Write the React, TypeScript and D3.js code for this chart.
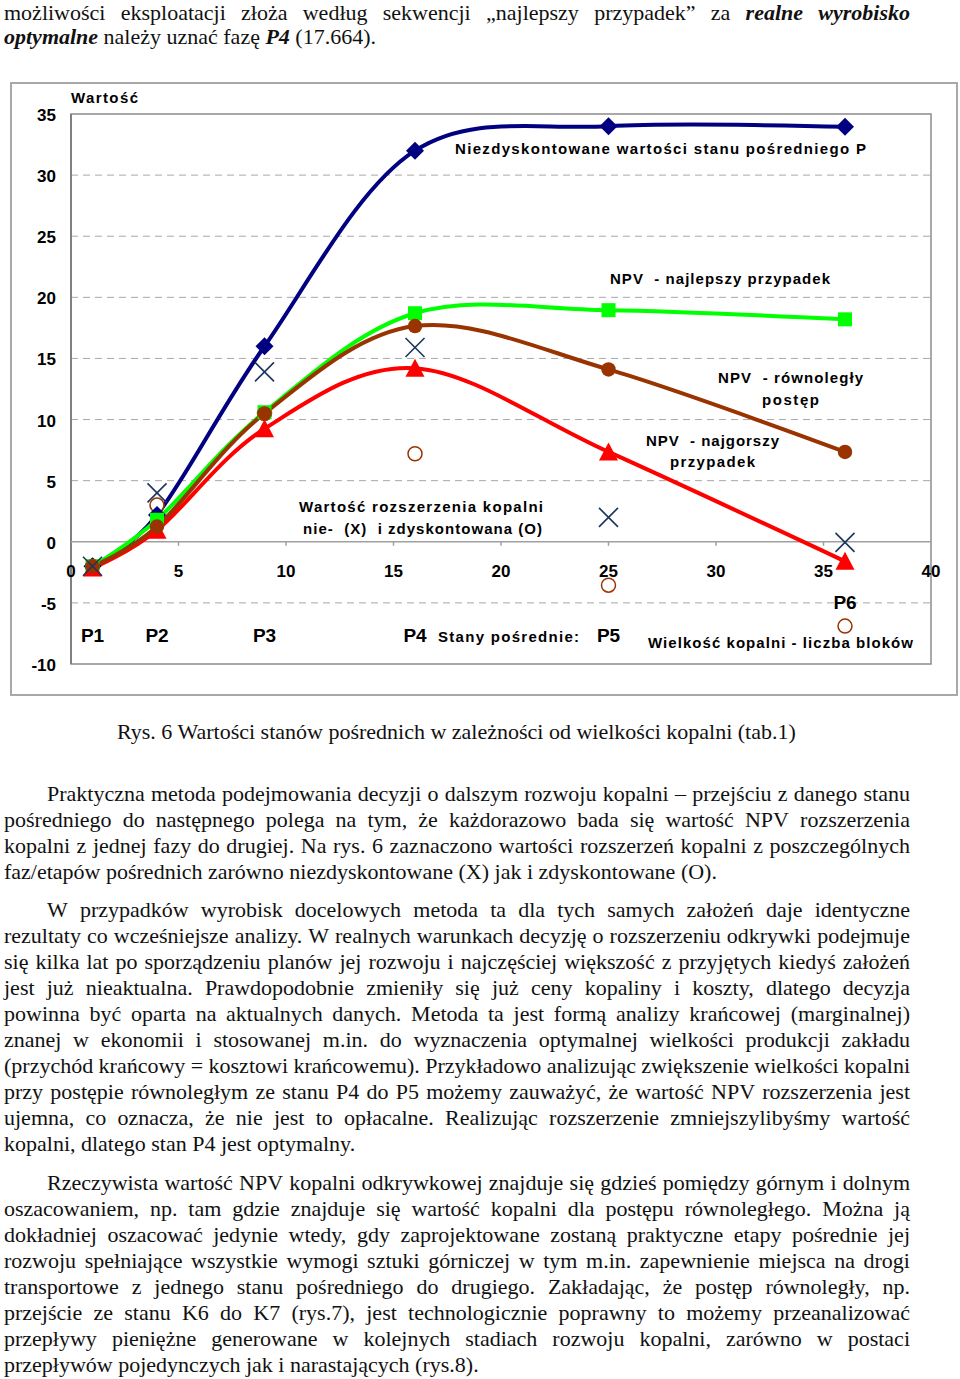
import React from 'react';
import * as d3 from 'd3';

// ---------- DATA ----------
const stages = ['P1', 'P2', 'P3', 'P4', 'P5', 'P6'];
const blocks = [1, 4, 9, 16, 25, 36];
const undiscountedValue = [-2, 2.2, 16, 32, 34, 33.95];
const npvBest = [-2, 1.8, 10.6, 18.7, 18.95, 18.2];
const npvParallel = [-2, 1.25, 10.5, 17.65, 14.1, 7.35];
const npvWorst = [-2.15, 0.95, 9.25, 14.2, 7.35, -1.6];
const expansionUndiscounted = [-2, 4, 13.9, 15.9, 2.0, -0.05];
const expansionDiscounted = [-2, 3, 10.5, 7.2, -3.55, -6.9];
const xTicks = [0, 5, 10, 15, 20, 25, 30, 35, 40];
const yTicks = [35, 30, 25, 20, 15, 10, 5, 0, -5, -10];
const gridValues = [30, 25, 20, 15, 10, 5, -5];

type Seg = { t: string; bi?: boolean };
const introLines: Seg[][] = [
  [{ t: 'możliwości eksploatacji złoża według sekwencji „najlepszy przypadek” za ' }, { t: 'realne wyrobisko', bi: true }],
  [{ t: 'optymalne', bi: true }, { t: ' należy uznać fazę ' }, { t: 'P4', bi: true }, { t: ' (17.664).' }],
];
const caption = 'Rys. 6 Wartości stanów pośrednich w zależności od wielkości kopalni (tab.1)';
const paragraph1 = [
  'Praktyczna metoda podejmowania decyzji o dalszym rozwoju kopalni – przejściu z danego stanu',
  'pośredniego do następnego polega na tym, że każdorazowo bada się wartość NPV rozszerzenia',
  'kopalni z jednej fazy do drugiej. Na rys. 6 zaznaczono wartości rozszerzeń kopalni z poszczególnych',
  'faz/etapów pośrednich zarówno niezdyskontowane (X) jak i zdyskontowane (O).',
];
const paragraph2 = [
  'W przypadków wyrobisk docelowych metoda ta dla tych samych założeń daje identyczne',
  'rezultaty co wcześniejsze analizy. W realnych warunkach decyzję o rozszerzeniu odkrywki podejmuje',
  'się kilka lat po sporządzeniu planów jej rozwoju i najczęściej większość z przyjętych kiedyś założeń',
  'jest już nieaktualna. Prawdopodobnie zmieniły się już ceny kopaliny i koszty, dlatego decyzja',
  'powinna być oparta na aktualnych danych. Metoda ta jest formą analizy krańcowej (marginalnej)',
  'znanej w ekonomii i stosowanej m.in. do wyznaczenia optymalnej wielkości produkcji zakładu',
  '(przychód krańcowy = kosztowi krańcowemu). Przykładowo analizując zwiększenie wielkości kopalni',
  'przy postępie równoległym ze stanu P4 do P5 możemy zauważyć, że wartość NPV rozszerzenia jest',
  'ujemna, co oznacza, że nie jest to opłacalne. Realizując rozszerzenie zmniejszylibyśmy wartość',
  'kopalni, dlatego stan P4 jest optymalny.',
];
const paragraph3 = [
  'Rzeczywista wartość NPV kopalni odkrywkowej znajduje się gdzieś pomiędzy górnym i dolnym',
  'oszacowaniem, np. tam gdzie znajduje się wartość kopalni dla postępu równoległego. Można ją',
  'dokładniej oszacować jedynie wtedy, gdy zaprojektowane zostaną praktyczne etapy pośrednie jej',
  'rozwoju spełniające wszystkie wymogi sztuki górniczej w tym m.in. zapewnienie miejsca na drogi',
  'transportowe z jednego stanu pośredniego do drugiego. Zakładając, że postęp równoległy, np.',
  'przejście ze stanu K6 do K7 (rys.7), jest technologicznie poprawny to możemy przeanalizować',
  'przepływy pieniężne generowane w kolejnych stadiach rozwoju kopalni, zarówno w postaci',
  'przepływów pojedynczych jak i narastających (rys.8).',
];

// ---------- LAYOUT ----------
const W = 960;
const H = 1379;
const x = d3.scaleLinear().domain([0, 40]).range([71, 931]);
const y = d3.scaleLinear().domain([-10, 35]).range([664, 114]);
const SANS = '"Liberation Sans", Arial, sans-serif';
const SERIF = '"Liberation Serif", "Times New Roman", serif';
const BODY = 22;

const chartLabels = [
  { text: 'Wartość', x: 71, y: 103, w: 67 },
  { text: 'Niezdyskontowane wartości stanu pośredniego P', x: 455, y: 154, w: 411 },
  { text: 'NPV  - najlepszy przypadek', x: 610, y: 284, w: 220 },
  { text: 'NPV  - równoległy', x: 718, y: 383, w: 145 },
  { text: 'postęp', x: 762, y: 405, w: 57 },
  { text: 'NPV  - najgorszy', x: 646, y: 446, w: 133 },
  { text: 'przypadek', x: 670, y: 467, w: 85 },
  { text: 'Wartość rozszerzenia kopalni', x: 299, y: 512, w: 244 },
  { text: 'nie-  (X)  i zdyskontowana (O)', x: 303, y: 534, w: 239 },
  { text: 'Stany pośrednie:', x: 438, y: 642, w: 141 },
  { text: 'Wielkość kopalni - liczba bloków', x: 648, y: 648, w: 265 },
];

let ctx: CanvasRenderingContext2D | null = null;
function measure(word: string, bi: boolean, size: number) {
  if (!ctx) ctx = document.createElement('canvas').getContext('2d');
  if (!ctx) return word.length * size * 0.45;
  ctx.font = `${bi ? 'italic bold ' : ''}${size}px "Liberation Serif"`;
  return ctx.measureText(word).width;
}

function TextLine({ segs, x0, x1, yb, justify, k }: { segs: Seg[]; x0: number; x1: number; yb: number; justify: boolean; k: string }) {
  const words: { t: string; bi: boolean }[] = [];
  segs.forEach((s) => s.t.split(' ').forEach((w) => { if (w) words.push({ t: w, bi: !!s.bi }); }));
  let size = BODY;
  let widths = words.map((w) => measure(w.t, w.bi, size));
  let sum = d3.sum(widths);
  let gap = justify ? (x1 - x0 - sum) / Math.max(1, words.length - 1) : measure(' ', false, size);
  if (justify && gap < 2.5) {
    size = BODY * (x1 - x0 - 2.5 * (words.length - 1)) / sum;
    widths = words.map((w) => measure(w.t, w.bi, size));
    sum = d3.sum(widths);
    gap = (x1 - x0 - sum) / Math.max(1, words.length - 1);
  }
  let cx = x0;
  return (
    <text key={k} y={yb} fontFamily={SERIF} fontSize={size} fill="#111">
      {words.map((w, i) => {
        const px = cx;
        cx += widths[i] + gap;
        return (
          <tspan key={i} x={px} fontWeight={w.bi ? 'bold' : 'normal'} fontStyle={w.bi ? 'italic' : 'normal'}>
            {w.t}
          </tspan>
        );
      })}
    </text>
  );
}

function Paragraph({ lines, y0, k }: { lines: string[]; y0: number; k: string }) {
  return (
    <g>
      {lines.map((l, i) => (
        <TextLine key={k + i} k={k + i} segs={[{ t: l }]} x0={i === 0 ? 47 : 4} x1={910} yb={y0 + i * 26} justify={i < lines.length - 1} />
      ))}
    </g>
  );
}

const lineGen = d3
  .line<number>()
  .x((_, i) => x(blocks[i]))
  .y((d) => y(d))
  .curve(d3.curveCardinal.tension(0));

const series = [
  { values: undiscountedValue, color: '#000080', marker: 'diamond' },
  { values: npvBest, color: '#00ff00', marker: 'square' },
  { values: npvWorst, color: '#ff0000', marker: 'triangle' },
  { values: npvParallel, color: '#993300', marker: 'circle' },
];

function Marker({ type, cx, cy, color }: { type: string; cx: number; cy: number; color: string }) {
  if (type === 'diamond') {
    return <path d={`M${cx},${cy - 9}L${cx + 9},${cy}L${cx},${cy + 9}L${cx - 9},${cy}Z`} fill={color} />;
  }
  if (type === 'square') {
    return <rect x={cx - 7} y={cy - 7} width={14} height={14} fill={color} />;
  }
  if (type === 'triangle') {
    return <path d={`M${cx},${cy - 9.5}L${cx + 9.5},${cy + 8.5}L${cx - 9.5},${cy + 8.5}Z`} fill={color} />;
  }
  return <circle cx={cx} cy={cy} r={7.2} fill={color} />;
}

export default function App() {
  return (
    <div style={{ position: 'absolute', left: 0, top: 0, width: W, height: H, background: '#fff' }}>
      <svg width={W} height={H} viewBox={`0 0 ${W} ${H}`} style={{ display: 'block' }}>
        <rect x={0} y={0} width={W} height={H} fill="#fff" />

        {/* intro text */}
        <TextLine k="i0" segs={introLines[0]} x0={4} x1={910} yb={20} justify={true} />
        <TextLine k="i1" segs={introLines[1]} x0={4} x1={910} yb={44} justify={false} />

        {/* chart frame */}
        <rect x={11} y={83} width={946} height={612} fill="#fff" stroke="#a8a8a8" strokeWidth={2} />

        {/* grid */}
        {gridValues.map((v) => (
          <line key={v} x1={x(0)} x2={x(40)} y1={y(v)} y2={y(v)} stroke="#a8a8a8" strokeWidth={1} strokeDasharray="7,5" />
        ))}
        {/* plot border */}
        <rect x={x(0)} y={y(35)} width={x(40) - x(0)} height={y(-10) - y(35)} fill="none" stroke="#8c8c8c" strokeWidth={1.5} />
        <line x1={x(0)} x2={x(0)} y1={y(35)} y2={y(-10)} stroke="#808080" strokeWidth={2} />
        {/* x axis at 0 */}
        <line x1={x(0)} x2={x(40)} y1={y(0)} y2={y(0)} stroke="#a0a0a0" strokeWidth={1.5} />
        {xTicks.slice(1, -1).map((t) => (
          <line key={t} x1={x(t)} x2={x(t)} y1={y(0)} y2={y(0) + 4} stroke="#a0a0a0" strokeWidth={1.5} />
        ))}

        {/* tick labels */}
        <g fontFamily={SANS} fontWeight="bold" fontSize={17} fill="#000">
          {yTicks.map((t) => (
            <text key={t} x={56} y={y(t) + 7} textAnchor="end">{t}</text>
          ))}
          {xTicks.map((t) => (
            <text key={t} x={x(t)} y={577} textAnchor="middle">{t}</text>
          ))}
        </g>

        {/* lines */}
        {series.map((s, i) => (
          <path key={i} d={lineGen(s.values) || ''} fill="none" stroke={s.color} strokeWidth={4} strokeLinejoin="round" strokeLinecap="round" />
        ))}

        {/* discounted expansion markers (O) */}
        {expansionDiscounted.map((v, i) => (
          <circle key={i} cx={x(blocks[i])} cy={y(v)} r={7} fill="#fff" stroke="#993300" strokeWidth={1.5} />
        ))}

        {/* series markers */}
        {series.map((s, si) =>
          s.values.map((v, i) => <Marker key={si + '-' + i} type={s.marker} cx={x(blocks[i])} cy={y(v)} color={s.color} />)
        )}

        {/* undiscounted expansion markers (X) */}
        {expansionUndiscounted.map((v, i) => {
          const cx = x(blocks[i]);
          const cy = y(v);
          return (
            <g key={i} stroke="#1c355e" strokeWidth={1.6}>
              <line x1={cx - 9.5} y1={cy - 9.5} x2={cx + 9.5} y2={cy + 9.5} />
              <line x1={cx - 9.5} y1={cy + 9.5} x2={cx + 9.5} y2={cy - 9.5} />
            </g>
          );
        })}

        {/* chart labels */}
        <g fontFamily={SANS} fontWeight="bold" fontSize={15} fill="#000">
          {chartLabels.map((l, i) => (
            <text key={i} x={l.x} y={l.y} textLength={l.w} lengthAdjust="spacing" style={{ whiteSpace: 'pre' }}>
              {l.text}
            </text>
          ))}
          {stages.map((s, i) => (
            <text key={s} x={x(blocks[i])} y={s === 'P6' ? 609 : 642} textAnchor="middle" fontSize={19}>
              {s}
            </text>
          ))}
        </g>

        {/* caption */}
        <text x={117} y={739} fontFamily={SERIF} fontSize={BODY} fill="#111">{caption}</text>

        <Paragraph lines={paragraph1} y0={801} k="p1" />
        <Paragraph lines={paragraph2} y0={917} k="p2" />
        <Paragraph lines={paragraph3} y0={1190} k="p3" />
      </svg>
    </div>
  );
}
